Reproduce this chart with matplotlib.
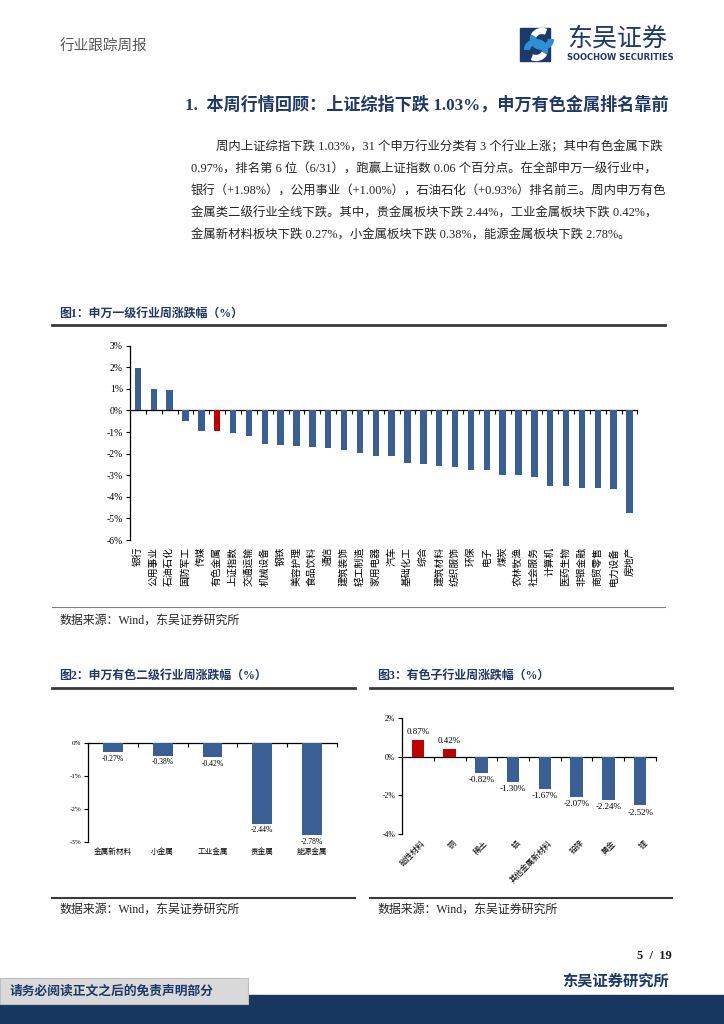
import numpy as np
import matplotlib
matplotlib.use('Agg')
import matplotlib.pyplot as plt
from matplotlib.lines import Line2D
from matplotlib.patches import Rectangle, Arc
import matplotlib.transforms as mtransforms

plt.rcParams['font.family'] = ['Liberation Serif', 'Noto Sans CJK SC', 'DejaVu Sans']

W, H = 724, 1024   # page size in pixels
NAVY = '#1f3864'
BLUE = '#3a5f94'
RED = '#c00000'

# ---- data ----
names1 = ['银行', '公用事业', '石油石化', '国防军工', '传媒', '有色金属', '上证指数', '交通运输',
          '机械设备', '钢铁', '美容护理', '食品饮料', '通信', '建筑装饰', '轻工制造', '家用电器',
          '汽车', '基础化工', '综合', '建筑材料', '纺织服饰', '环保', '电子', '煤炭',
          '农林牧渔', '社会服务', '计算机', '医药生物', '非银金融', '商贸零售', '电力设备', '房地产']
values1 = [1.98, 1.00, 0.93, -0.49, -0.96, -0.97, -1.03, -1.20,
           -1.54, -1.58, -1.66, -1.71, -1.74, -1.83, -1.95, -2.10,
           -2.10, -2.43, -2.46, -2.55, -2.60, -2.75, -2.75, -2.97,
           -2.97, -3.06, -3.48, -3.48, -3.57, -3.57, -3.65, -4.77]
highlight1 = '有色金属'

names2 = ['金属新材料', '小金属', '工业金属', '贵金属', '能源金属']
values2 = [-0.27, -0.38, -0.42, -2.44, -2.78]

names3 = ['磁性材料', '铜', '稀土', '铝', '其他金属新材料', '铅锌', '黄金', '锂']
values3 = [0.87, 0.42, -0.82, -1.30, -1.67, -2.07, -2.24, -2.52]

para = ['周内上证综指下跌 1.03%，31 个申万行业分类有 3 个行业上涨；其中有色金属下跌',
        '0.97%，排名第 6 位（6/31），跑赢上证指数 0.06 个百分点。在全部申万一级行业中，',
        '银行（+1.98%），公用事业（+1.00%），石油石化（+0.93%）排名前三。周内申万有色',
        '金属类二级行业全线下跌。其中，贵金属板块下跌 2.44%，工业金属板块下跌 0.42%，',
        '金属新材料板块下跌 0.27%，小金属板块下跌 0.38%，能源金属板块下跌 2.78%。']


def txt(x, y, s, **kw):
    kw.setdefault('va', 'center')
    return fig.text(x / W, 1 - y / H, s, **kw)


def hline(y, x0, x1, lw=1.0, color='#404040'):
    fig.add_artist(Line2D([x0 / W, x1 / W], [1 - y / H] * 2, transform=fig.transFigure,
                          lw=lw, color=color))


def add_ax(l, t, r, b):
    return fig.add_axes([l / W, 1 - b / H, (r - l) / W, (b - t) / H])


def style_ax(ax, n, ylim, step, fs):
    ax.set_xlim(-0.5, n - 0.5)
    ax.set_ylim(*ylim)
    for s in ['top', 'right']:
        ax.spines[s].set_visible(False)
    ax.spines['bottom'].set_position(('data', 0))
    ax.spines['bottom'].set_linewidth(0.9)
    ax.spines['left'].set_linewidth(0.9)
    ax.set_yticks(np.arange(ylim[0], ylim[1] + 0.001, step))
    ax.set_yticklabels(['%d%%' % v for v in np.arange(ylim[0], ylim[1] + 0.001, step)])
    ax.tick_params(axis='y', direction='out', length=3, width=0.8, labelsize=fs, pad=2)
    ax.set_xticks(np.arange(n + 1) - 0.5)
    ax.set_xticklabels([])
    ax.tick_params(axis='x', direction='out', length=3, width=0.8)
    ax.patch.set_alpha(0)


fig = plt.figure(figsize=(7.24, 10.24), dpi=100)

# ---- header ----
txt(60, 47, '行业跟踪周报', fontsize=10.5, color='#595959', ha='left')
lax = add_ax(518, 26, 566, 63)
lax.set_xlim(0, 48)
lax.set_ylim(37, 0)
lax.set_aspect('equal')
lax.axis('off')
lax.add_patch(Rectangle((2, 2), 30, 33, color='#1b3a6b'))
lax.add_patch(Arc((24, 13), 18, 16, theta1=0, theta2=200, lw=4.5, color='#2e8fd6'))
lax.add_patch(Arc((18, 24), 18, 16, theta1=180, theta2=380, lw=4.5, color='#2e8fd6'))
lax.add_patch(Arc((24, 13), 18, 16, theta1=200, theta2=300, lw=4.5, color='white'))
lax.add_patch(Arc((18, 24), 18, 16, theta1=20, theta2=120, lw=4.5, color='white'))
txt(567, 39, '东吴证券', fontsize=18, color='#1b3a6b', ha='left')
txt(567, 57.5, 'SOOCHOW SECURITIES', fontsize=6, color='#1b3a6b', ha='left',
    fontweight='bold', family='DejaVu Sans')

# ---- section title and paragraph ----
txt(185, 105, '1.  本周行情回顾：上证综指下跌 1.03%，申万有色金属排名靠前', fontsize=12.3,
    color=NAVY, fontweight='bold', ha='left')
for i, line in enumerate(para):
    txt(216 if i == 0 else 191, 147 + i * 22.2, line, fontsize=8.9, color='#262626', ha='left')

# ---- figure 1 ----
txt(59, 314, '图1：申万一级行业周涨跌幅（%）', fontsize=8.6, color=NAVY, fontweight='bold', ha='left')
hline(325, 52, 665, lw=2, color='#3a3a3a')
ax1 = add_ax(130, 345.7, 637.4, 540)
x1 = np.arange(len(values1))
cols1 = [RED if n == highlight1 else BLUE for n in names1]
ax1.bar(x1, values1, width=0.4, color=cols1, zorder=3)
style_ax(ax1, len(values1), (-6, 3), 1, 7)
lab_tr = mtransforms.blended_transform_factory(ax1.transData, ax1.transAxes)
for i, n in enumerate(names1):
    ax1.text(i, -0.035, n, transform=lab_tr, rotation=90, ha='center', va='top', fontsize=7)
hline(607, 52, 665, lw=0.8, color='#7f7f7f')
txt(60, 621, '数据来源：Wind，东吴证券研究所', fontsize=8.6, color='#262626', ha='left')

# ---- figure 2 ----
txt(59, 676, '图2：申万有色二级行业周涨跌幅（%）', fontsize=8.6, color=NAVY, fontweight='bold', ha='left')
hline(688, 52, 355, lw=2, color='#3a3a3a')
ax2 = add_ax(88, 743, 337, 842)
x2 = np.arange(len(values2))
ax2.bar(x2, values2, width=0.4, color=BLUE, zorder=3)
style_ax(ax2, len(values2), (-3, 0), 1, 5)
for i, v in enumerate(values2):
    ax2.annotate('%.2f%%' % v, (i, v), xytext=(0, -2), textcoords='offset points',
                 ha='center', va='top', fontsize=5.5)
tr2 = mtransforms.blended_transform_factory(ax2.transData, ax2.transAxes)
for i, n in enumerate(names2):
    ax2.text(i, -0.1, n, transform=tr2, ha='center', va='center', fontsize=5.5)
hline(898, 52, 355, lw=1.5, color='#3a3a3a')
txt(60, 910, '数据来源：Wind，东吴证券研究所', fontsize=8.6, color='#262626', ha='left')

# ---- figure 3 ----
txt(377, 676, '图3：有色子行业周涨跌幅（%）', fontsize=8.6, color=NAVY, fontweight='bold', ha='left')
hline(688, 370, 672, lw=2, color='#3a3a3a')
ax3 = add_ax(402, 718, 656, 834)
x3 = np.arange(len(values3))
cols3 = [RED if v > 0 else BLUE for v in values3]
ax3.bar(x3, values3, width=0.4, color=cols3, zorder=3)
style_ax(ax3, len(values3), (-4, 2), 2, 5.5)
for i, v in enumerate(values3):
    ax3.annotate('%.2f%%' % v, (i, v), xytext=(0, 2.5 if v > 0 else -2.5),
                 textcoords='offset points', ha='center',
                 va='bottom' if v > 0 else 'top', fontsize=6.5)
tr3 = mtransforms.blended_transform_factory(ax3.transData, ax3.transAxes)
for i, n in enumerate(names3):
    ax3.text(i + 0.1, -0.045, n, transform=tr3, rotation=45, ha='right', va='top',
             rotation_mode='anchor', fontsize=5.8)
hline(898, 370, 672, lw=1.5, color='#3a3a3a')
txt(377, 910, '数据来源：Wind，东吴证券研究所', fontsize=8.6, color='#262626', ha='left')

# ---- footer ----
txt(672, 956, '5  /  19', fontsize=9, fontweight='bold', color='#1a1a1a', ha='right')
txt(669, 981, '东吴证券研究所', fontsize=11, fontweight='bold', color='#1b3a6b', ha='right')
fig.add_artist(Rectangle((0, 0), 1, 29 / H, transform=fig.transFigure, color='#17375e'))
fig.add_artist(Rectangle((0, 1 - 1004 / H), 248 / W, 26 / H, transform=fig.transFigure,
                         facecolor='#d9d9d9', edgecolor='#bfbfbf', lw=0.8))
txt(10, 991, '请务必阅读正文之后的免责声明部分', fontsize=9.2, fontweight='bold',
    color='#1b3a6b', ha='left')

fig.savefig('out.png', dpi=100)
